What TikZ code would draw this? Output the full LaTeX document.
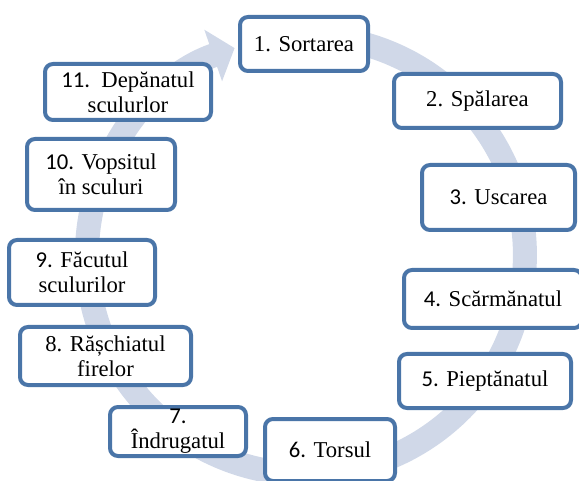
\documentclass[tikz,border=0pt]{standalone}
\usepackage{fontspec}
\setmainfont{Liberation Serif}
\newfontfamily\numfont{Carlito}
\usetikzlibrary{arrows.meta}
\definecolor{stageblue}{RGB}{74,117,168}
\definecolor{bandgray}{RGB}{208,216,232}
\newcommand{\stagenr}[1]{{\numfont #1}}
\tikzstyle{stage} = [rectangle, rounded corners=6pt, draw=stageblue, line width=3pt, fill=white, align=center, inner xsep=3pt, inner ysep=2pt, font=\fontsize{17pt}{18.75pt}\selectfont]
\tikzstyle{band} = [draw=bandgray, line width=18pt, -{Triangle[width=40pt,length=17pt]}]
\begin{document}
\begin{tikzpicture}[x=0.75pt, y=-0.75pt]
	\useasboundingbox (0,0) rectangle (579,481);
	\coordinate (arcstart) at (325,37);
	\draw [band] (arcstart) arc[start angle=85, end angle=-251, radius=164.25pt];

	\node (s1) [stage, minimum width=96pt, minimum height=40.5pt] at (304,44) {1. Sortarea};
	\node (s2) [stage, minimum width=125.25pt, minimum height=40.5pt] at (477.5,101) {2. Spălarea};
	\node (s3) [stage, minimum width=114.75pt, minimum height=48.75pt] at (498.5,197.5) {\stagenr{3.} Uscarea};
	\node (s4) [stage, minimum width=133.5pt, minimum height=43.5pt] at (493,299) {\stagenr{4.} Scărmănatul};
	\node (s5) [stage, minimum width=129pt, minimum height=40.5pt] at (485,381) {\stagenr{5.} Pieptănatul};
	\node (s6) [stage, minimum width=97.5pt, minimum height=46.5pt] at (330,450) {\stagenr{6.} Torsul};
	\node (s7) [stage, minimum width=102pt, minimum height=36.75pt, inner ysep=0pt] at (178,431.5) {\stagenr{7.}\\Îndrugatul};
	\node (s8) [stage, minimum width=128.25pt, minimum height=43.5pt] at (105.5,356) {8. Rășchiatul\\firelor};
	\node (s9) [stage, minimum width=109.5pt, minimum height=48.75pt] at (82,272.5) {\stagenr{9.} Făcutul\\sculurilor};
	\node (s10) [stage, minimum width=111pt, minimum height=53.25pt] at (101,174.5) {\stagenr{10.} Vopsitul\\în sculuri};
	\node (s11) [stage, minimum width=124.5pt, minimum height=42pt] at (128,92) {\stagenr{11.}\ \ Depănatul\\sculurlor};
\end{tikzpicture}
\end{document}
